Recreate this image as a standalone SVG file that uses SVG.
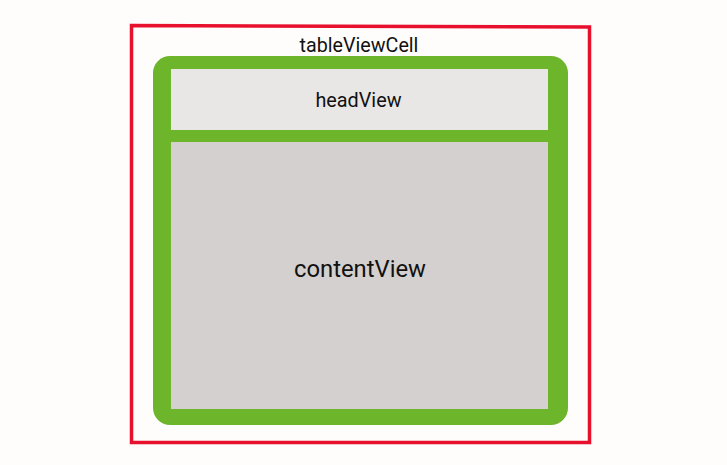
<svg xmlns="http://www.w3.org/2000/svg" width="727" height="465" viewBox="0 0 727 465">
<style>
text{font-family:Roboto,"Liberation Sans",sans-serif;fill:#111;text-anchor:middle}
</style>
<rect width="727" height="465" fill="#fefdfc"/>
<g id="tableViewCell">
<polygon points="131.5,25.5 589.5,27 589.5,442.5 131.5,442.5" fill="none" stroke="#e8112d" stroke-width="3.5"/>
<text x="359" y="52" font-size="19.7">tableViewCell</text>
</g>
<g id="frame">
<rect x="153" y="56" width="415" height="369" rx="17" fill="#6db52b"/>
</g>
<g id="headView">
<rect x="171" y="69" width="377" height="61" fill="#e8e7e6"/>
<text x="358.5" y="107" font-size="19.8">headView</text>
</g>
<g id="contentView">
<rect x="171" y="142" width="377" height="267" fill="#d4d0cf"/>
<text x="360" y="277" font-size="23.8">contentView</text>
</g>
<g id="connectors"/>
</svg>
